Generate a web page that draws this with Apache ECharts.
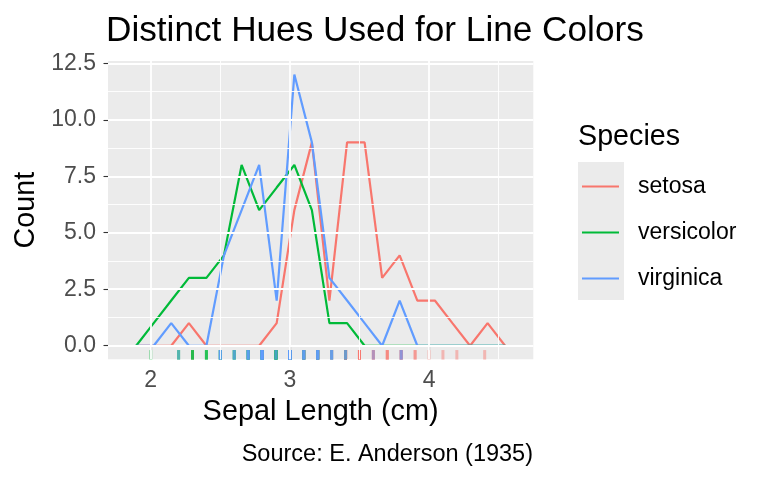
<!DOCTYPE html>
<html>
<head>
<meta charset="utf-8">
<script src="https://cdn.jsdelivr.net/npm/echarts@6/dist/echarts.min.js"></script>
<style>html,body{margin:0;padding:0;background:#fff}#c{width:768px;height:480px}</style>
</head>
<body>
<div id="c"></div>
<script>
// ---- data ----
var binCenters = [1.895, 2.021, 2.147, 2.274, 2.400, 2.526, 2.653, 2.779, 2.905, 3.032, 3.158, 3.284, 3.411, 3.537, 3.663, 3.789, 3.916, 4.042, 4.168, 4.295, 4.421, 4.547];
var setosaCounts     = [0, 0, 0, 1, 0, 0, 0, 0, 1, 6, 9, 2, 9, 9, 3, 4, 2, 2, 1, 0, 1, 0];
var versicolorCounts = [0, 1, 2, 3, 3, 4, 8, 6, 7, 8, 6, 1, 1, 0, 0, 0, 0, 0, 0, 0, 0, 0];
var virginicaCounts  = [0, 0, 1, 0, 0, 4, 6, 8, 2, 12, 9, 3, 2, 1, 0, 2, 0, 0, 0, 0, 0, 0];
// rug: observed values and how many times each occurs
var setosaRugValues = [2.3, 2.9, 3.0, 3.1, 3.2, 3.3, 3.4, 3.5, 3.6, 3.7, 3.8, 3.9, 4.0, 4.1, 4.2, 4.4];
var setosaRugCounts = [1, 1, 6, 4, 5, 2, 9, 6, 3, 3, 4, 2, 1, 1, 1, 1];
var versicolorRugValues = [2.0, 2.2, 2.3, 2.4, 2.5, 2.6, 2.7, 2.8, 2.9, 3.0, 3.1, 3.2, 3.3, 3.4];
var versicolorRugCounts = [1, 2, 3, 3, 4, 3, 5, 6, 7, 8, 3, 3, 1, 1];
var virginicaRugValues = [2.2, 2.5, 2.6, 2.7, 2.8, 2.9, 3.0, 3.1, 3.2, 3.3, 3.4, 3.6, 3.8];
var virginicaRugCounts = [1, 4, 2, 4, 8, 2, 12, 4, 5, 3, 2, 1, 2];
var speciesNames = ['setosa', 'versicolor', 'virginica'];
var speciesColors = ['#F8766D', '#00BA38', '#619CFF'];
var xTicks = [2, 3, 4];
var xMinorTicks = [2.5, 3.5, 4.5];
var yTicks = [0, 2.5, 5, 7.5, 10, 12.5];
var yMinorTicks = [1.25, 3.75, 6.25, 8.75, 11.25];

var FONT = '"Liberation Sans", Arial, Helvetica, sans-serif';
var X_MIN = 1.6926, X_MAX = 4.7495, Y_MIN = -0.6, Y_MAX = 12.6;
var RUG_Y = -0.402;

function pairs(xs, ys) { return xs.map(function (x, i) { return [x, ys[i]]; }); }
function rug(vals, counts) {
  var out = [];
  vals.forEach(function (v, i) { for (var k = 0; k < counts[i]; k++) out.push([v, RUG_Y]); });
  return out;
}

var gridLines = [];
xTicks.forEach(function (v) { gridLines.push({ xAxis: v, lineStyle: { width: 1.8 } }); });
xMinorTicks.forEach(function (v) { gridLines.push({ xAxis: v, lineStyle: { width: 0.9 } }); });
yTicks.forEach(function (v) { gridLines.push({ yAxis: v, lineStyle: { width: 1.8 } }); });
yMinorTicks.forEach(function (v) { gridLines.push({ yAxis: v, lineStyle: { width: 0.9 } }); });

var countsList = [setosaCounts, versicolorCounts, virginicaCounts];
var rugList = [rug(setosaRugValues, setosaRugCounts), rug(versicolorRugValues, versicolorRugCounts), rug(virginicaRugValues, virginicaRugCounts)];

var series = [{
  type: 'line', data: [], z: 1, silent: true,
  markLine: { silent: true, symbol: ['none', 'none'], label: { show: false }, animation: false,
    lineStyle: { color: '#FFFFFF', type: 'solid' }, data: gridLines }
}];
speciesNames.forEach(function (n, i) {
  series.push({
    name: n, type: 'line', data: pairs(binCenters, countsList[i]), symbol: 'none', z: 3,
    lineStyle: { color: speciesColors[i], width: 2.2 }, itemStyle: { color: speciesColors[i] }
  });
});
speciesNames.forEach(function (n, i) {
  series.push({
    name: n + ' rug', type: 'scatter', data: rugList[i], symbol: 'rect', symbolSize: [3, 9.5], z: 2,
    itemStyle: { color: speciesColors[i], opacity: 0.45 }
  });
});

var chart = echarts.init(document.getElementById('c'), null, { renderer: 'canvas' });
chart.setOption({
  animation: false,
  backgroundColor: '#FFFFFF',
  title: { text: 'Distinct Hues Used for Line Colors', left: 106, top: 14, padding: 0,
    textStyle: { fontFamily: FONT, fontSize: 35.2, fontWeight: 'normal', color: '#000000' } },
  grid: { left: 108, right: 234.7, top: 61, bottom: 120.7, show: true, backgroundColor: '#EBEBEB', borderWidth: 0 },
  xAxis: {
    type: 'value', min: X_MIN, max: X_MAX,
    name: 'Sepal Length (cm)', nameLocation: 'middle', nameGap: 38,
    nameTextStyle: { fontFamily: FONT, fontSize: 28.9, color: '#000000' },
    axisLine: { show: false },
    axisTick: { show: true, length: 4.5, lineStyle: { color: '#333333', width: 1.1 }, customValues: xTicks },
    axisLabel: { fontFamily: FONT, fontSize: 23, color: '#4D4D4D', margin: 10, customValues: xTicks,
      formatter: function (v) { return String(v); } },
    splitLine: { show: false }
  },
  yAxis: {
    type: 'value', min: Y_MIN, max: Y_MAX,
    name: 'Count', nameLocation: 'middle', nameGap: 64, nameRotate: 90,
    nameTextStyle: { fontFamily: FONT, fontSize: 28.7, color: '#000000' },
    axisLine: { show: false },
    axisTick: { show: true, length: 4.5, lineStyle: { color: '#333333', width: 1.1 }, customValues: yTicks },
    axisLabel: { fontFamily: FONT, fontSize: 23, color: '#4D4D4D', margin: 12, customValues: yTicks,
      formatter: function (v) { return v.toFixed(1); } },
    splitLine: { show: false }
  },
  legend: {
    data: speciesNames, orient: 'vertical', left: 582, top: 175, padding: 0,
    itemWidth: 37, itemHeight: 23, itemGap: 23, icon: 'path://M0,9 L37,9 L37,11 L0,11 Z',
    textStyle: { fontFamily: FONT, fontSize: 23, color: '#000000', padding: [0, 0, 0, 14], lineHeight: 23 },
    selectedMode: false
  },
  graphic: [
    { type: 'rect', left: 578, top: 162, z: -1, shape: { width: 46, height: 138 }, style: { fill: '#EBEBEB' } },
    { type: 'text', left: 578, top: 123, style: { text: 'Species', font: '28.7px ' + FONT, fill: '#000000' } },
    { type: 'text', right: 768 - 533, top: 443, style: { text: 'Source: E. Anderson (1935)', font: '23.5px ' + FONT, fill: '#000000', textAlign: 'right' } }
  ],
  series: series
});
</script>
</body>
</html>
